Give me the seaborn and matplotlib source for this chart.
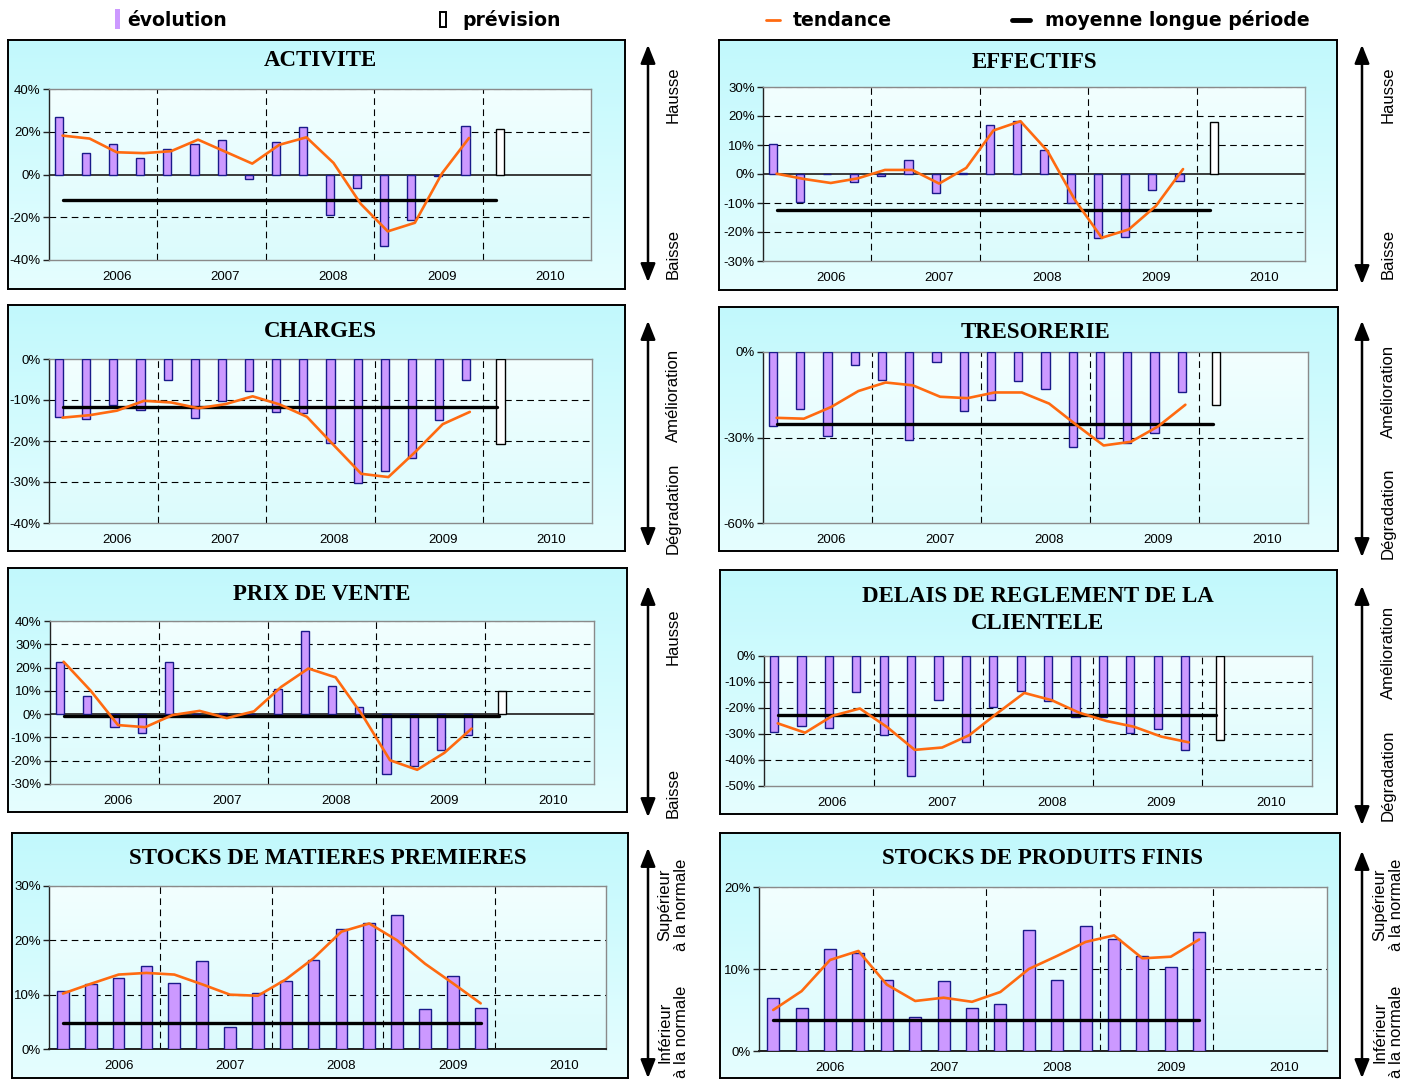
import numpy as np
import pandas as pd
import matplotlib
matplotlib.use("Agg")
import matplotlib.pyplot as plt
from matplotlib.patches import Rectangle, FancyArrowPatch
from matplotlib.lines import Line2D
import seaborn as sns

sns.set_theme(style="white")
plt.rcParams['font.family'] = ['Liberation Sans', 'DejaVu Sans']
plt.rcParams['text.color'] = 'black'
plt.rcParams['xtick.color'] = 'black'
plt.rcParams['ytick.color'] = 'black'
plt.rcParams['axes.labelcolor'] = 'black'

# ---------------------------------------------------------------- data
YEARS = ["2006", "2007", "2008", "2009", "2010"]

activite_evol = [27, 10, 14.5, 7.5, 12, 14.5, 16.2, -2, 15.1, 22.3, -18.8, -6.5, -33.3, -21.3, -0.6, 22.9]
activite_trend = [18.2, 16.8, 10.4, 10.0, 10.9, 16.3, 10.7, 5.1, 13.9, 17.4, 5.4, -13.7, -26.6, -22.6, 0.5, 17.1]
activite_prev = 21.3
activite_mean = -11.7

effectifs_evol = [10.4, -9.5, 0, -2.7, -0.6, 5.0, -6.4, 0.5, 17.0, 18.2, 8.4, -10.0, -21.9, -21.6, -5.5, -2.4]
effectifs_trend = [0.1, -1.7, -3.1, -1.5, 1.4, 1.4, -3.3, 2.1, 15.0, 18.2, 7.9, -8.8, -22.0, -19.1, -11.0, 1.7]
effectifs_prev = 17.9
effectifs_mean = -12.5

charges_evol = [-14.1, -14.6, -11.1, -12.4, -5.0, -14.3, -10.2, -7.8, -12.9, -13.2, -20.5, -30.3, -27.2, -24.1, -14.9, -5.1]
charges_trend = [-14.3, -13.7, -12.6, -10.2, -10.6, -12.0, -11.0, -9.1, -11.1, -14.1, -21.1, -28.0, -28.8, -22.6, -15.9, -12.9]
charges_prev = -20.7
charges_mean = -11.6

tresorerie_evol = [-26.1, -20.0, -29.3, -4.6, -9.8, -30.8, -3.4, -20.7, -17.0, -10.3, -13.0, -33.5, -30.0, -32.0, -28.5, -14.2]
tresorerie_trend = [-23.1, -23.4, -19.3, -13.7, -10.7, -11.7, -15.7, -16.2, -14.2, -14.2, -18.1, -25.6, -32.8, -31.5, -26.1, -18.5]
tresorerie_prev = -18.5
tresorerie_mean = -25.1

prix_evol = [22.5, 8.0, -5.7, -8.2, 22.5, -0.5, 0.3, -0.3, 10.8, 35.7, 12.1, 3.0, -25.9, -22.1, -15.2, -9.0]
prix_trend = [22.5, 10.0, -4.7, -5.6, -0.4, 1.4, -1.7, 1.2, 11.7, 19.6, 15.8, -0.7, -19.8, -23.9, -16.6, -6.2]
prix_prev = 9.9
prix_mean = -0.8

delais_evol = [-29.3, -27.0, -27.8, -13.9, -30.4, -46.2, -16.8, -33.2, -19.8, -13.5, -17.3, -23.3, -23.6, -29.5, -28.2, -36.2]
delais_trend = [-25.9, -29.5, -23.0, -20.2, -27.4, -36.1, -35.2, -30.4, -22.1, -14.2, -17.0, -21.8, -25.0, -27.2, -31.0, -33.2]
delais_prev = -32.4
delais_mean = -22.7

stock_mp_evol = [10.7, 12.0, 13.0, 15.2, 12.1, 16.2, 4.0, 10.3, 12.6, 16.4, 22.0, 23.2, 24.7, 7.3, 13.4, 7.5]
stock_mp_trend = [10.2, 12.0, 13.7, 14.0, 13.7, 11.9, 10.0, 9.8, 12.8, 16.7, 21.6, 23.1, 20.0, 15.7, 12.1, 8.4]
stock_mp_mean = 4.7

stock_pf_evol = [6.5, 5.3, 12.4, 12.0, 8.7, 4.1, 8.5, 5.3, 5.7, 14.7, 8.6, 15.3, 13.6, 11.6, 10.2, 14.5]
stock_pf_trend = [5.0, 7.3, 11.1, 12.2, 8.1, 6.1, 6.5, 6.0, 7.2, 10.0, 11.6, 13.3, 14.1, 11.3, 11.5, 13.6]
stock_pf_mean = 3.8

titles = ["ACTIVITE", "EFFECTIFS", "CHARGES", "TRESORERIE", "PRIX DE VENTE",
          "DELAIS DE REGLEMENT DE LA\nCLIENTELE", "STOCKS DE MATIERES PREMIERES",
          "STOCKS DE PRODUITS FINIS"]
yticks_list = [[-40, -20, 0, 20, 40], [-30, -20, -10, 0, 10, 20, 30], [-40, -30, -20, -10, 0],
               [-60, -30, 0], [-30, -20, -10, 0, 10, 20, 30, 40], [-50, -40, -30, -20, -10, 0],
               [0, 10, 20, 30], [0, 10, 20]]
legend_labels = ["évolution", "prévision", "tendance", "moyenne longue période"]
side_labels = [("Hausse", "Baisse"), ("Hausse", "Baisse"),
               ("Amélioration", "Dégradation"), ("Amélioration", "Dégradation"),
               ("Hausse", "Baisse"), ("Amélioration", "Dégradation"),
               ("Supérieur\nà la normale", "Inférieur\nà la normale"),
               ("Supérieur\nà la normale", "Inférieur\nà la normale")]

# ---------------------------------------------------------------- style / layout
W, H = 1414, 1081
LAV = "#cc99ff"
NAVY = "#1a1a8a"
ORANGE = "#ff6a10"
DASH = (0, (6, 4))

fig = plt.figure(figsize=(W / 100, H / 100), dpi=100)


def frac(x0, y0, x1, y1):
    return [x0 / W, 1 - y1 / H, (x1 - x0) / W, (y1 - y0) / H]


def gradient(ax, top, bottom):
    t = np.linspace(0, 1, 256)[:, None, None]
    img = np.array(top)[None, None, :] * (1 - t) + np.array(bottom)[None, None, :] * t
    ax.imshow(img, aspect="auto", extent=[0, 1, 0, 1], origin="upper", interpolation="bilinear")
    ax.set_xlim(0, 1)
    ax.set_ylim(0, 1)
    ax.set_xticks([])
    ax.set_yticks([])


# panel box, plot area, title centre y (pixels)
layout = [
    ((8, 40, 625, 289), (49, 89, 591, 260), 61),
    ((719, 40, 1337, 290), (763, 87, 1305, 261), 62),
    ((8, 305, 625, 551), (49, 359, 592, 523), 331),
    ((719, 307, 1338, 551), (763, 352, 1308, 523), 333),
    ((8, 568, 627, 812), (50, 621, 594, 784), 594),
    ((720, 570, 1337, 814), (764, 656, 1312, 786), 610),
    ((12, 833, 628, 1078), (49, 886, 606, 1049), 859),
    ((720, 833, 1340, 1078), (759, 887, 1327, 1051), 859),
]


def draw_panel(idx, evol, trend, mean, prev=None):
    box, plot, ty = layout[idx]
    stock = prev is None

    bg = fig.add_axes(frac(*box), zorder=0)
    gradient(bg, (0.76, 0.975, 0.99), (0.90, 0.995, 1.0))
    for s in bg.spines.values():
        s.set_visible(True)
        s.set_color("black")
        s.set_linewidth(1.4)

    face = fig.add_axes(frac(*plot), zorder=1)
    gradient(face, (0.95, 1.0, 1.0), (0.86, 0.985, 0.99))
    face.axis("off")

    ax = fig.add_axes(frac(*plot), zorder=2)
    ax.set_facecolor("none")

    q = np.arange(len(evol))
    off = 0.0 if stock else -0.13
    df = pd.DataFrame({"q": q + off, "v": evol})
    sns.barplot(data=df, x="q", y="v", native_scale=True, orient="x",
                width=0.42 if stock else 0.3, color=LAV, saturation=1,
                edgecolor=NAVY, linewidth=1.0, errorbar=None, ax=ax, zorder=3)
    if not stock:
        dfp = pd.DataFrame({"q": [len(evol) + 0.13], "v": [prev]})
        sns.barplot(data=dfp, x="q", y="v", native_scale=True, orient="x",
                    width=0.3, color="white", saturation=1, edgecolor="black",
                    linewidth=1.0, errorbar=None, ax=ax, zorder=3)

    last = len(evol) - 1 if stock else len(evol)
    sns.lineplot(x=[0, last], y=[mean, mean], color="black", lw=2.4, ax=ax, zorder=4)
    sns.lineplot(x=q, y=trend, color=ORANGE, lw=1.9, ax=ax, zorder=5)

    yt = yticks_list[idx]
    ax.set_ylim(yt[0], yt[-1])
    ax.set_xlim(-0.5, 19.5)
    for v in yt:
        if v == 0:
            ax.axhline(0, color="#3a3a3a", lw=1.4, zorder=2.5)
        elif v != yt[0]:
            ax.axhline(v, color="black" if v != yt[-1] else "#8a8a8a", lw=0.8, ls=DASH, zorder=1)
    for xv in (3.5, 7.5, 11.5, 15.5):
        ax.axvline(xv, color="black", lw=0.8, ls=DASH, zorder=1)

    ax.set_yticks(yt)
    ax.set_yticklabels([f"{v}%" for v in yt])
    ax.set_xticks([2, 6, 10, 14, 18])
    ax.set_xticklabels(YEARS)
    ax.set_xlabel("")
    ax.set_ylabel("")
    ax.tick_params(axis="y", length=4, width=1, color="#222222", pad=2, labelsize=9.5,
                   left=True, labelcolor="black")
    ax.tick_params(axis="x", length=0, pad=8, labelsize=9.5, labelcolor="black")
    for name, s in ax.spines.items():
        s.set_visible(True)
        s.set_color("#8a8a8a")
        s.set_linewidth(1.0)
    ax.spines["left"].set_color("#222222")
    if stock:
        ax.spines["bottom"].set_color("#222222")
        ax.spines["bottom"].set_linewidth(1.4)
    ax.grid(False)

    cx = (plot[0] + plot[2]) / 2
    fig.text(cx / W, 1 - ty / H, titles[idx], ha="center", va="center", color="black",
             family=["Liberation Serif", "DejaVu Serif"], weight="bold", size=16.5,
             linespacing=1.42)


draw_panel(0, activite_evol, activite_trend, activite_mean, activite_prev)
draw_panel(1, effectifs_evol, effectifs_trend, effectifs_mean, effectifs_prev)
draw_panel(2, charges_evol, charges_trend, charges_mean, charges_prev)
draw_panel(3, tresorerie_evol, tresorerie_trend, tresorerie_mean, tresorerie_prev)
draw_panel(4, prix_evol, prix_trend, prix_mean, prix_prev)
draw_panel(5, delais_evol, delais_trend, delais_mean, delais_prev)
draw_panel(6, stock_mp_evol, stock_mp_trend, stock_mp_mean)
draw_panel(7, stock_pf_evol, stock_pf_trend, stock_pf_mean)

# ---------------------------------------------------------------- legend strip
def px(x, y):
    return x / W, 1 - y / H


fig.patches.append(Rectangle(px(115, 29), 5 / W, 20 / H, transform=fig.transFigure,
                             facecolor=LAV, edgecolor="none"))
fig.patches.append(Rectangle(px(440, 27), 6 / W, 15 / H, transform=fig.transFigure,
                             facecolor="white", edgecolor="black", lw=1.4))
fig.lines.append(Line2D([766 / W, 780 / W], [1 - 20 / H] * 2, transform=fig.transFigure,
                        color=ORANGE, lw=2))
fig.lines.append(Line2D([1012 / W, 1030 / W], [1 - 20 / H] * 2, transform=fig.transFigure,
                        color="black", lw=3.5))
for x, lab in zip((127, 462, 793, 1045), legend_labels):
    fig.text(*px(x, 20), lab, ha="left", va="center", family=["DejaVu Sans"],
             weight="bold", size=13.6, color="black")

# ---------------------------------------------------------------- side arrows
arrows = [(648, 42, 285), (1362, 42, 287), (648, 318, 550), (1362, 318, 560),
          (648, 583, 820), (1362, 583, 828), (648, 845, 1081), (1362, 848, 1081)]
label_pos = [(673, 95, 254), (1388, 95, 254), (673, 395, 508), (1388, 391, 513),
             (673, 637, 793), (1388, 652, 775), (673, 905, 1032), (1388, 905, 1032)]

for (x, y0, y1), (lx, ly0, ly1), (up, down) in zip(arrows, label_pos, side_labels):
    arr = FancyArrowPatch(px(x, y1), px(x, y0), transform=fig.transFigure,
                          arrowstyle="<|-|>,head_length=0.8,head_width=0.32",
                          mutation_scale=14, lw=1.8, color="black")
    fig.patches.append(arr)
    fig.text(*px(lx, ly0), up, rotation=90, ha="center", va="center", size=12,
             multialignment="center", linespacing=1.15, color="black")
    fig.text(*px(lx, ly1), down, rotation=90, ha="center", va="center", size=12,
             multialignment="center", linespacing=1.15, color="black")

fig.savefig("out.png", dpi=100)
